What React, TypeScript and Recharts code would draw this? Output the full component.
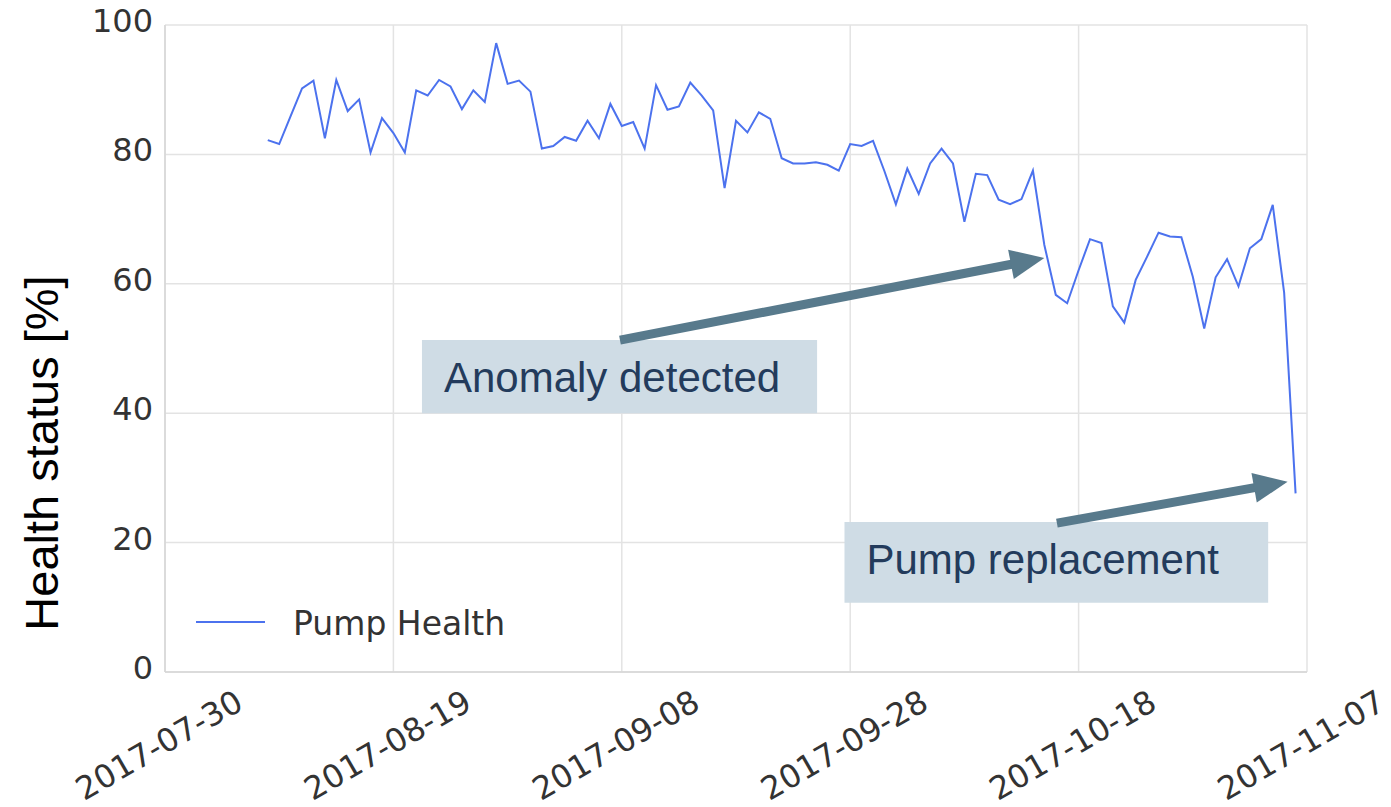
import React from "react";
import {
  LineChart,
  Line,
  XAxis,
  YAxis,
  CartesianGrid,
  Legend,
  ReferenceArea,
  ReferenceLine,
} from "recharts";

// daily pump health readings, first sample on 2017-08-08
const startDate = "2017-08-08";
const healthValues = [
  82.2, 81.6, 85.9, 90.2, 91.4, 82.5, 91.5, 86.7, 88.5, 80.3, 85.6, 83.3, 80.3, 89.9, 89.1, 91.5, 90.5, 87.0, 89.9, 88.1, 97.2,
  90.9, 91.4, 89.7, 80.9, 81.3, 82.7, 82.1, 85.2, 82.5, 87.8, 84.4, 85.0, 80.9, 90.7, 86.9, 87.4, 91.1, 89.1, 86.8, 74.8, 85.2,
  83.4, 86.5, 85.5, 79.4, 78.6, 78.6, 78.8, 78.4, 77.5, 81.6, 81.3, 82.1, 77.4, 72.3, 77.8, 73.9, 78.6, 80.9, 78.6, 69.6, 77.0,
  76.8, 73.0, 72.3, 73.1, 77.5, 66.0, 58.3, 57.0, 62.1, 66.9, 66.3, 56.5, 54.0, 60.6, 64.2, 67.9, 67.3, 67.2, 61.1,
  53.1, 61.0, 63.8, 59.6, 65.5, 66.9, 72.2, 58.6, 27.6,
];

const xTickLabels = ["2017-07-30", "2017-08-19", "2017-09-08", "2017-09-28", "2017-10-18", "2017-11-07"];
const yTicks = [0, 20, 40, 60, 80, 100];

const DAY = 86400000;
const t0 = Date.parse(xTickLabels[0]);
const xTicks = xTickLabels.map((d) => Date.parse(d));
const at = (days: number) => t0 + days * DAY;

const data = healthValues.map((v, i) => ({ t: Date.parse(startDate) + i * DAY, health: v }));

const BLUE = "#4c72ee";
const BOX = "#cfdce5";
const ARROW = "#587a8c";
const NOTE = "#233b5c";

function XTick({ x, payload }: any) {
  const label = xTickLabels[xTicks.indexOf(payload.value)];
  return (
    <text
      transform={`translate(${x - 6},745) rotate(-30)`}
      textAnchor="middle"
      dy="0.35em"
      fontSize={32}
      fontFamily="DejaVu Sans"
      fill="#333"
    >
      {label}
    </text>
  );
}

function YTick({ x, y, payload }: any) {
  return (
    <text x={x} y={y} dy={7} textAnchor="end" fontSize={32} fontFamily="DejaVu Sans" fill="#333">
      {payload.value}
    </text>
  );
}

function Arrow({ x1, y1, x2, y2 }: any) {
  const dx = x2 - x1;
  const dy = y2 - y1;
  const len = Math.hypot(dx, dy);
  const ux = dx / len;
  const uy = dy / len;
  const head = 34;
  const half = 15;
  const bx = x2 - ux * head;
  const by = y2 - uy * head;
  return (
    <g>
      <line x1={x1} y1={y1} x2={bx + ux * 2} y2={by + uy * 2} stroke={ARROW} strokeWidth={9} />
      <polygon
        points={`${x2},${y2} ${bx - uy * half},${by + ux * half} ${bx + uy * half},${by - ux * half}`}
        fill={ARROW}
      />
    </g>
  );
}

const boxText = (text: string) => (props: any) => {
  const vb = props.viewBox;
  return (
    <text x={vb.x + 22} y={vb.y + 52} fontSize={42} fontFamily="Liberation Sans" fill={NOTE}>
      {text}
    </text>
  );
};

function LegendBox() {
  return (
    <svg width={340} height={50}>
      <line x1={6} y1={22} x2={75} y2={22} stroke={BLUE} strokeWidth={2} />
      <text x={103} y={35} fontSize={33} fontFamily="DejaVu Sans" fill="#333">
        Pump Health
      </text>
    </svg>
  );
}

export default function App() {
  return (
    <div style={{ position: "absolute", left: 0, top: 0, background: "#fff" }}>
      <LineChart width={1391} height={807} data={data} margin={{ top: 25, right: 84, left: 0, bottom: 0 }}>
        <CartesianGrid stroke="#e3e3e3" strokeWidth={1.5} />
        <XAxis
          dataKey="t"
          type="number"
          domain={[xTicks[0], xTicks[xTicks.length - 1]]}
          ticks={xTicks}
          interval={0}
          height={135}
          tickLine={false}
          axisLine={{ stroke: "#d6d6d6", strokeWidth: 1.5 }}
          tick={<XTick />}
        />
        <YAxis
          type="number"
          domain={[0, 100]}
          ticks={yTicks}
          interval={0}
          width={165}
          tickLine={false}
          tickSize={0}
          tickMargin={12}
          axisLine={{ stroke: "#d6d6d6", strokeWidth: 1.5 }}
          tick={<YTick />}
          label={{
            content: () => (
              <text
                transform="translate(58,453) rotate(-90)"
                textAnchor="middle"
                fontSize={47}
                fontFamily="Liberation Sans"
                fill="#000"
              >
                Health status [%]
              </text>
            ),
          }}
        />
        <Legend
          layout="horizontal"
          verticalAlign="middle"
          align="center"
          wrapperStyle={{ left: 190, top: 600, width: 340, height: 50 }}
          content={() => <LegendBox />}
        />
        <ReferenceArea
          x1={at(22.5)}
          x2={at(57.1)}
          y1={40.0}
          y2={51.3}
          fill={BOX}
          fillOpacity={1}
          stroke="none"
          label={{ content: boxText("Anomaly detected") }}
        />
        <ReferenceArea
          x1={at(59.5)}
          x2={at(96.6)}
          y1={10.7}
          y2={23.2}
          fill={BOX}
          fillOpacity={1}
          stroke="none"
          label={{ content: boxText("Pump replacement") }}
        />
        <Line
          type="linear"
          dataKey="health"
          name="Pump Health"
          stroke={BLUE}
          strokeWidth={2}
          dot={false}
          isAnimationActive={false}
        />
        <ReferenceLine
          segment={[
            { x: at(39.84), y: 51.3 },
            { x: at(77.0), y: 64.0 },
          ]}
          shape={(p: any) => <Arrow {...p} />}
        />
        <ReferenceLine
          segment={[
            { x: at(78.1), y: 23.0 },
            { x: at(98.3), y: 29.4 },
          ]}
          shape={(p: any) => <Arrow {...p} />}
        />
      </LineChart>
    </div>
  );
}
